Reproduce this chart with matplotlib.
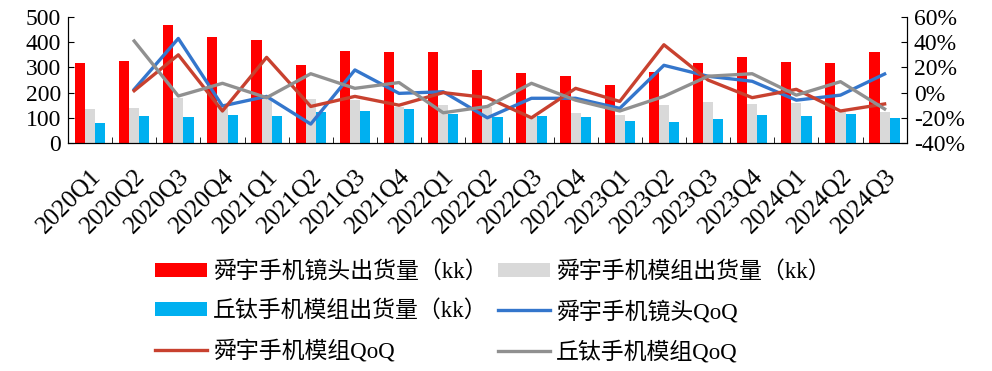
import numpy as np
import matplotlib.pyplot as plt

quarters = ['2020Q1', '2020Q2', '2020Q3', '2020Q4', '2021Q1', '2021Q2', '2021Q3', '2021Q4',
            '2022Q1', '2022Q2', '2022Q3', '2022Q4', '2023Q1', '2023Q2', '2023Q3', '2023Q4',
            '2024Q1', '2024Q2', '2024Q3']

# shipments (kk)
sunny_lens = [318, 327, 468, 419, 409, 310, 365, 361, 361, 291, 278, 265, 230, 283, 316, 342, 321, 316, 360]
sunny_module = [135, 139, 177, 145, 178, 175, 171, 144, 151, 144, 104, 118, 111, 150, 163, 155, 160, 124, 122]
qtech_module = [78, 107, 104, 112, 107, 122, 126, 135, 115, 103, 108, 102, 87, 85, 95, 110, 107, 115, 100]

# QoQ (%), first quarter has no value
lens_qoq = [np.nan, 2.6, 43, -10.6, -3, -25, 18, -0.6, 0.7, -20, -4.5, -4.5, -12.5, 21.7, 13, 9, -6, -2, 14.8]
module_qoq = [np.nan, 1.5, 30, -14.6, 28, -11, -3, -10, 0, -4, -20, 3.4, -7, 38, 10, -4, 2.6, -14.6, -9]
qtech_qoq = [np.nan, 41, -2.7, 7.4, -4, 15, 3.4, 8, -16, -11, 7.4, -6, -14.6, -3, 13, 15, -2, 8.7, -13]

serif = ['Liberation Serif', 'Noto Sans CJK SC']
plt.rcParams['font.family'] = serif

fig = plt.figure(figsize=(9.92, 3.71), dpi=100)
ax = fig.add_axes([0.0685, 0.6146, 0.8455, 0.3394])
ax2 = ax.twinx()

x = np.arange(len(quarters))
w = 0.23
b1 = ax.bar(x - w, sunny_lens, w, color='#FF0000')
b2 = ax.bar(x, sunny_module, w, color='#D9D9D9')
b3 = ax.bar(x + w, qtech_module, w, color='#00B0F0')

l1, = ax2.plot(x, lens_qoq, color='#3476CC', lw=2.4)
l2, = ax2.plot(x, module_qoq, color='#C8412F', lw=2.4)
l3, = ax2.plot(x, qtech_qoq, color='#909090', lw=2.4)

ax.set_xlim(-0.5, len(quarters) - 0.5)
ax.set_ylim(0, 500)
ax.set_yticks([0, 100, 200, 300, 400, 500])
ax2.set_ylim(-40, 60)
ax2.set_yticks([-40, -20, 0, 20, 40, 60])
ax2.set_yticklabels([f'{v}%' for v in [-40, -20, 0, 20, 40, 60]])

ax.set_xticks(x)
ax.set_xticklabels(quarters, rotation=45, ha='right', rotation_mode='anchor')
ax.set_xticks(np.arange(-0.5, len(quarters)), minor=True)
ax.tick_params(axis='x', which='major', length=0, labelsize=18, pad=16)
ax.tick_params(axis='x', which='minor', direction='in', length=4)
ax.tick_params(axis='y', direction='in', length=4, labelsize=17, pad=5)
ax2.tick_params(axis='y', direction='in', length=4, labelsize=17, pad=5)

for a in (ax, ax2):
    a.spines['top'].set_visible(False)

handles = [b1, b3, l2, b2, l1, l3]
labels = ['舜宇手机镜头出货量（kk）', '丘钛手机模组出货量（kk）', '舜宇手机模组QoQ',
          '舜宇手机模组出货量（kk）', '舜宇手机镜头QoQ', '丘钛手机模组QoQ']
fig.legend(handles, labels, ncol=2, loc='center', bbox_to_anchor=(0.497, 0.159),
           frameon=False, prop={'family': serif, 'size': 16.5},
           handlelength=2.25, handleheight=0.55, handletextpad=0.28,
           columnspacing=0.45, labelspacing=0.75, borderpad=0)

fig.savefig('out.png', dpi=100)
plt.close()
